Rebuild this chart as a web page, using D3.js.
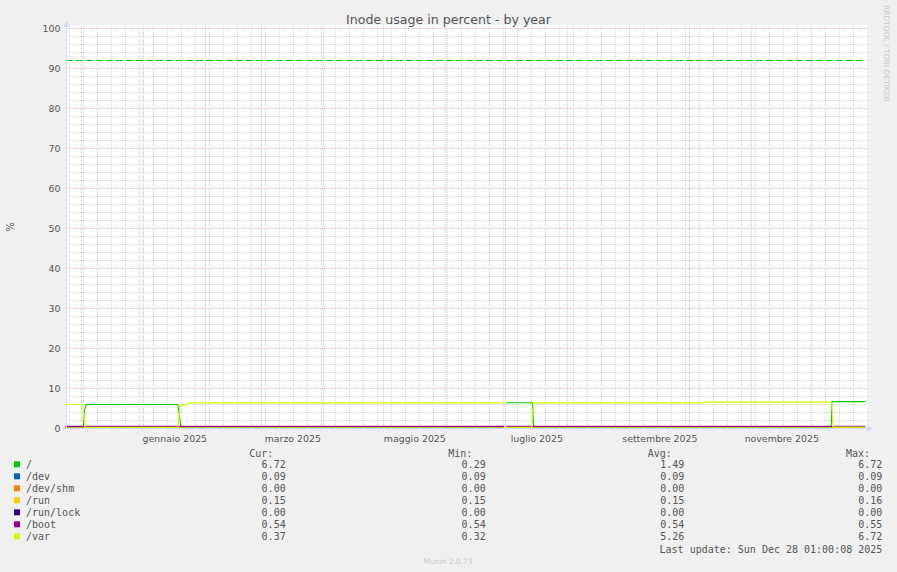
<!DOCTYPE html>
<html>
<head>
<meta charset="utf-8">
<script src="https://cdn.jsdelivr.net/npm/d3@7"></script>
<style>
  html, body { margin: 0; padding: 0; background: #f0f0f0; }
  svg { display: block; }
</style>
</head>
<body>
<svg id="chart" width="897" height="572"></svg>
<script>
// ---------------- DATA ----------------
const chartTitle = "Inode usage in percent - by year";
const yAxisLabel = "%";
const timeStart = "2024-11-23T01:00";
const timeEnd = "2025-12-28T01:00";
const yTicks = [0, 10, 20, 30, 40, 50, 60, 70, 80, 90, 100];
const xTickMonths = ["2025-01-01", "2025-03-01", "2025-05-01", "2025-07-01", "2025-09-01", "2025-11-01"];
const xTickLabels = ["gennaio 2025", "marzo 2025", "maggio 2025", "luglio 2025", "settembre 2025", "novembre 2025"];
const warningLevel = 92;

const seriesNames = ["/", "/dev", "/dev/shm", "/run", "/run/lock", "/boot", "/var"];
const seriesColors = ["#00cc00", "#0066b3", "#ff8000", "#ffcc00", "#330099", "#990099", "#ccff00"];

const rootPoints = [
  ["2024-11-23T01:00", 0.29], ["2024-12-02T00:00", 0.29], ["2024-12-02T12:00", 4.5], ["2024-12-03T12:00", 6.0],
  ["2025-01-18T06:00", 6.0], ["2025-01-19T20:00", 0.29],
  ["2025-06-30T12:00", 0.29], ["2025-07-01T00:00", null], ["2025-07-01T12:00", 6.45],
  ["2025-07-14T12:00", 6.45], ["2025-07-15T06:00", 0.29],
  ["2025-12-11T00:00", 0.29], ["2025-12-11T06:00", 6.72], ["2025-12-28T01:00", 6.72]
];
const devPoints = [["2024-11-23T01:00", 0.09], ["2025-06-30T12:00", 0.09], ["2025-07-01T00:00", null], ["2025-07-01T12:00", 0.09], ["2025-12-28T01:00", 0.09]];
const devShmPoints = [["2024-11-23T01:00", 0.00], ["2025-06-30T12:00", 0.00], ["2025-07-01T00:00", null], ["2025-07-01T12:00", 0.00], ["2025-12-28T01:00", 0.00]];
const runPoints = [["2024-11-23T01:00", 0.15], ["2025-06-30T12:00", 0.15], ["2025-07-01T00:00", null], ["2025-07-01T12:00", 0.15], ["2025-12-28T01:00", 0.15]];
const runLockPoints = [["2024-11-23T01:00", 0.00], ["2025-06-30T12:00", 0.00], ["2025-07-01T00:00", null], ["2025-07-01T12:00", 0.00], ["2025-12-28T01:00", 0.00]];
const bootPoints = [["2024-11-23T01:00", 0.54], ["2025-06-30T12:00", 0.54], ["2025-07-01T00:00", null], ["2025-07-01T12:00", 0.54], ["2025-12-28T01:00", 0.54]];
const varPoints = [
  ["2024-11-23T01:00", 6.0], ["2024-12-01T16:00", 6.0], ["2024-12-02T20:00", 0.32],
  ["2025-01-18T08:00", 0.32], ["2025-01-19T08:00", 5.9], ["2025-01-22T12:00", 5.9], ["2025-01-23T12:00", 6.4],
  ["2025-06-30T12:00", 6.4], ["2025-07-01T00:00", null], ["2025-07-01T12:00", 0.32],
  ["2025-07-14T06:00", 0.32], ["2025-07-15T00:00", 6.4],
  ["2025-10-08T00:00", 6.4], ["2025-10-08T12:00", 6.6],
  ["2025-12-11T06:00", 6.6], ["2025-12-11T18:00", 0.37], ["2025-12-28T01:00", 0.37]
];
const seriesPoints = [rootPoints, devPoints, devShmPoints, runPoints, runLockPoints, bootPoints, varPoints];

const legendHeaders = ["Cur:", "Min:", "Avg:", "Max:"];
const curValues = ["6.72", "0.09", "0.00", "0.15", "0.00", "0.54", "0.37"];
const minValues = ["0.29", "0.09", "0.00", "0.15", "0.00", "0.54", "0.32"];
const avgValues = ["1.49", "0.09", "0.00", "0.15", "0.00", "0.54", "5.26"];
const maxValues = ["6.72", "0.09", "0.00", "0.16", "0.00", "0.55", "6.72"];
const lastUpdate = "Last update: Sun Dec 28 01:00:08 2025";
const watermark = "Munin 2.0.73";
const sideText = "RRDTOOL / TOBI OETIKER";

// ---------------- DRAW ----------------
const parseT = s => new Date((s.length === 10 ? s + "T00:00" : s) + ":00Z");
const svg = d3.select("#chart");
const FONT = "'DejaVu Sans', sans-serif";
const MONO = "'DejaVu Sans Mono', monospace";
const TXT = "#555555";
const AXIS = "#cfd6f8";

const t0 = parseT(timeStart), t1 = parseT(timeEnd);
const x = d3.scaleUtc().domain([t0, t1]).range([65.4, 865.4]);
const y = d3.scaleLinear().domain([0, 100]).range([428.5, 28.5]);
const px = v => Math.round(v - 0.5) + 0.5;

// background
svg.append("rect").attr("width", 897).attr("height", 572).attr("fill", "#f0f0f0");
svg.append("rect").attr("x", 66).attr("y", 25).attr("width", 801).attr("height", 404).attr("fill", "#ffffff");

const grid = svg.append("g").attr("shape-rendering", "crispEdges");
// minor grid
const minorY = d3.range(0, 101, 2).filter(v => v % 10 !== 0);
grid.selectAll(".hmin").data(minorY).join("line")
  .attr("x1", 66).attr("x2", 868).attr("y1", d => px(y(d))).attr("y2", d => px(y(d)))
  .attr("stroke", "#d6d6d6").attr("stroke-dasharray", "1,1");
const weeks = d3.utcMonday.range(t0, t1);
grid.selectAll(".vmin").data(weeks).join("line")
  .attr("x1", d => px(x(d))).attr("x2", d => px(x(d))).attr("y1", 26).attr("y2", 428)
  .attr("stroke", "#d6d6d6").attr("stroke-dasharray", "1,1");
// major grid
grid.selectAll(".hmaj").data(yTicks.filter(v => v > 0)).join("line")
  .attr("x1", 66).attr("x2", 868).attr("y1", d => px(y(d))).attr("y2", d => px(y(d)))
  .attr("stroke", "#eeb6b6").attr("stroke-dasharray", "1,1");
const months = d3.utcMonth.range(t0, t1);
grid.selectAll(".vmaj").data(months).join("line")
  .attr("x1", d => px(x(d))).attr("x2", d => px(x(d))).attr("y1", 26).attr("y2", 428)
  .attr("stroke", "#eeb6b6").attr("stroke-dasharray", "1,1");

// series lines
const line = d3.line()
  .defined(d => d[1] !== null)
  .x(d => x(parseT(d[0])))
  .y(d => y(d[1]));
const lines = svg.append("g");
seriesPoints.forEach((pts, i) => {
  lines.append("path").datum(pts)
    .attr("d", line)
    .attr("fill", "none")
    .attr("stroke", seriesColors[i])
    .attr("stroke-width", 1.1);
});

// warning rule
svg.append("line")
  .attr("x1", 66).attr("x2", 866).attr("y1", px(y(warningLevel))).attr("y2", px(y(warningLevel)))
  .attr("stroke", "#00cc00").attr("stroke-width", 1.2).attr("stroke-dasharray", "7,3");

// axes lines + arrows
svg.append("line").attr("x1", 66.5).attr("x2", 66.5).attr("y1", 429).attr("y2", 24)
  .attr("stroke", AXIS).attr("shape-rendering", "crispEdges");
svg.append("line").attr("x1", 63).attr("x2", 868).attr("y1", 428.5).attr("y2", 428.5)
  .attr("stroke", AXIS).attr("shape-rendering", "crispEdges");
svg.append("path").attr("d", "M63.5,26.5 L69.5,26.5 L66.5,20.5 Z").attr("fill", AXIS);
svg.append("path").attr("d", "M867,425.5 L867,431.5 L873.5,428.5 Z").attr("fill", AXIS);

// y axis labels
const yAxis = d3.axisLeft(y).tickValues(yTicks).tickSize(0).tickPadding(6);
const gy = svg.append("g").attr("transform", "translate(66.5,0)").call(yAxis);
gy.select(".domain").remove();
gy.selectAll("text").attr("font-family", FONT).attr("font-size", "9.4px").attr("fill", TXT);

// x axis labels (centered in middle of month)
const tickDates = xTickMonths.map(s => {
  const a = parseT(s), b = d3.utcMonth.offset(a, 1);
  return new Date((a.getTime() + b.getTime()) / 2);
});
const xAxis = d3.axisBottom(x).tickValues(tickDates).tickSize(0).tickPadding(6.5)
  .tickFormat((d, i) => xTickLabels[i]);
const gx = svg.append("g").attr("transform", "translate(0,428.5)").call(xAxis);
gx.select(".domain").remove();
gx.selectAll("text").attr("font-family", FONT).attr("font-size", "9.4px").attr("fill", TXT);

// title
svg.append("text").attr("x", 448.5).attr("y", 23.5).attr("text-anchor", "middle")
  .attr("font-family", FONT).attr("font-size", "12.6px").attr("fill", TXT).text(chartTitle);

// y label
svg.append("text").attr("transform", "translate(13.5,227) rotate(-90)").attr("text-anchor", "middle")
  .attr("font-family", FONT).attr("font-size", "10px").attr("fill", TXT).text(yAxisLabel);

// side text
svg.append("text").attr("transform", "translate(884,5) rotate(90)").attr("text-anchor", "start")
  .attr("font-family", FONT).attr("font-size", "7.5px").attr("fill", "#c8c8c8").text(sideText);

// legend
const lg = svg.append("g").attr("font-family", MONO).attr("font-size", "10px").attr("fill", TXT);
const headerX = [249.3, 448.3, 647.7, 846];
const valueRight = [285.7, 485.7, 684.3, 882.3];
legendHeaders.forEach((h, j) => {
  lg.append("text").attr("x", headerX[j]).attr("y", 453.3 + 3.6).text(h);
});
const cols = [curValues, minValues, avgValues, maxValues];
seriesNames.forEach((name, i) => {
  const cy = 464.3 + i * 12;
  lg.append("rect").attr("x", 14).attr("y", cy - 3).attr("width", 6).attr("height", 6)
    .attr("fill", seriesColors[i]);
  lg.append("text").attr("x", 26).attr("y", cy + 3.6).text(name);
  cols.forEach((col, j) => {
    lg.append("text").attr("x", valueRight[j]).attr("y", cy + 3.6).attr("text-anchor", "end").text(col[i]);
  });
});
lg.append("text").attr("x", 882.3).attr("y", 549 + 3.6).attr("text-anchor", "end").text(lastUpdate);

// watermark
svg.append("text").attr("x", 448).attr("y", 564).attr("text-anchor", "middle")
  .attr("font-family", FONT).attr("font-size", "7.5px").attr("fill", "#c8c8c8").text(watermark);
</script>
</body>
</html>
